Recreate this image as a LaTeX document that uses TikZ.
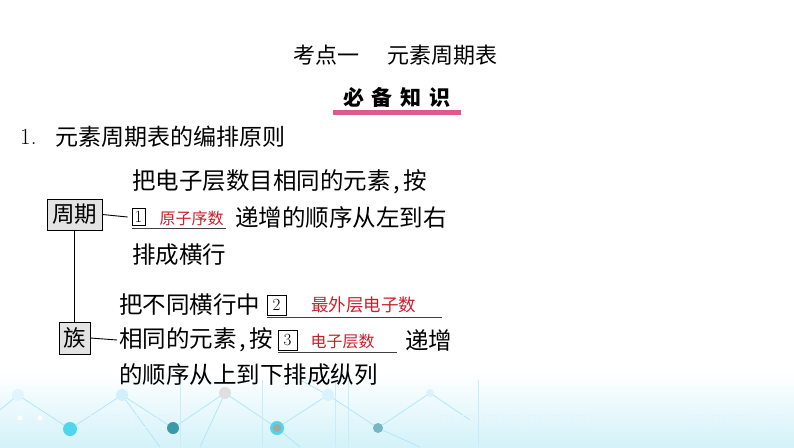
\documentclass[tikz,border=0pt]{standalone}
\usepackage{fontspec}
\newfontfamily\cjk{Noto Sans CJK SC}
\newcommand{\narrowcomma}{\hspace{0.12em},\hspace{0.14em}}
\definecolor{pinkbar}{HTML}{E0588C}
\definecolor{ansred}{HTML}{C8202A}
\definecolor{boxgray}{HTML}{E3E3E3}
\definecolor{cyanbg}{HTML}{D3F2F9}
\definecolor{dotcyan}{HTML}{4FD6EA}
\definecolor{dotteal}{HTML}{3A9AAA}
\begin{document}
\begin{tikzpicture}[x=1pt,y=-1pt,
  txt/.style={inner sep=0pt, anchor=west, font=\fontsize{23.5}{24}\selectfont\cjk},
  ans/.style={inner sep=0pt, text=ansred, font=\fontsize{16}{16}\selectfont\cjk},
  numbox/.style={draw, line width=0.8pt, inner sep=0pt, font=\fontsize{17}{17}\selectfont},
  catbox/.style={draw, line width=0.9pt, fill=boxgray, inner sep=0pt, font=\fontsize{22.5}{23}\selectfont\cjk},
  link/.style={line width=0.9pt},
  uline/.style={line width=0.9pt, black!75},
  deco/.style={cyan!30, line width=0.8pt}]
\useasboundingbox (0,0) rectangle (794,447);
% background decoration
\shade[top color=white, bottom color=cyanbg] (0,372) rectangle (794,447);
\draw[deco] (0,410) -- (18,395) -- (70,429) -- (122,395) -- (173,428) -- (225,393) -- (277,428) -- (328,395) -- (378,428) -- (430,393) -- (470,420);
\draw[deco] (122,395) -- (160,447) (225,393) -- (200,447) (277,428) -- (300,447) (328,395) -- (300,380) (378,428) -- (420,447);
\foreach \x in {180,262,335,348,478} {\draw[cyan!22, line width=0.7pt] (\x,380) -- (\x,447);}
\foreach \x in {90,110,135,157,440,462,484,506,528,550,572,690,712,734,770} {\draw[cyan!12, line width=0.8pt] (\x,415) rectangle ++(12,12);}
\foreach \x in {20,40} {\fill[white] (\x,418) circle (2.5);}
\fill[cyan!12] (18,395) circle (6);
\fill[cyan!18] (122,395) circle (6);
\fill[gray!25] (225,393) circle (6);
\fill[cyan!15] (328,395) circle (6);
\fill[cyan!15] (430,393) circle (4);
\fill[dotcyan] (70,429) circle (7);
\fill[dotteal] (173,428) circle (6);
\fill[dotcyan] (277,428) circle (7);
\fill[gray!70] (277,428) circle (4);
\fill[dotteal!70] (378,428) circle (5);
% title
\node[inner sep=0pt, anchor=west, font=\fontsize{22}{22}\selectfont\cjk] (title) at (293,55) {考点一\hspace{1.3em}元素周期表};
\node[inner sep=0pt, font=\fontsize{21}{21}\selectfont\cjk\bfseries] (bibei) at (397,97) {必\hspace{8pt}备\hspace{8pt}知\hspace{8pt}识};
\fill[pinkbar] (333,110) rectangle (461,115);
% heading
\node[inner sep=0pt, anchor=west, font=\fontsize{23}{23}\selectfont] (num) at (20,137) {1.};
\node[txt, font=\fontsize{23}{23}\selectfont\cjk] (head) at (55,137) {元素周期表的编排原则};
% period
\node[catbox, minimum width=55pt, minimum height=31pt] (zq) at (74.5,214.5) {周期};
\node[txt] (p1) at (132,182) {把电子层数目相同的元素\narrowcomma 按};
\node[numbox, minimum width=13pt, minimum height=17pt] (b1) at (138.5,217) {1};
\node[ans] (a1) at (191.5,218) {原子序数};
\node[txt] (p2) at (235,218) {递增的顺序从左到右};
\node[txt] (p3) at (132,255) {排成横行};
\draw[uline] (132,228) -- (226,228);
\draw[link] (zq.east) -- ([xshift=-4pt]b1.west);
% group
\node[catbox, minimum width=31pt, minimum height=32pt] (zu) at (74.5,338) {族};
\node[txt] (g1) at (119,305) {把不同横行中};
\node[numbox, minimum width=19pt, minimum height=20pt] (b2) at (276.5,305) {2};
\node[ans, font=\fontsize{17.5}{18}\selectfont\cjk] (a2) at (363.5,305) {最外层电子数};
\draw[uline] (267,317) -- (442,317);
\node[txt] (g2) at (119,340) {相同的元素\narrowcomma 按};
\node[numbox, minimum width=19pt, minimum height=20pt] (b3) at (287.5,340) {3};
\node[ans] (a3) at (342.5,341) {电子层数};
\draw[uline] (278,352) -- (397,352);
\node[txt] (g3) at (405,340) {递增};
\node[txt] (g4) at (119,375) {的顺序从上到下排成纵列};
\draw[link] (zu.east) -- ([xshift=-2pt]g2.west);
\draw[link] (zq.south) -- (zu.north);
\end{tikzpicture}
\end{document}
